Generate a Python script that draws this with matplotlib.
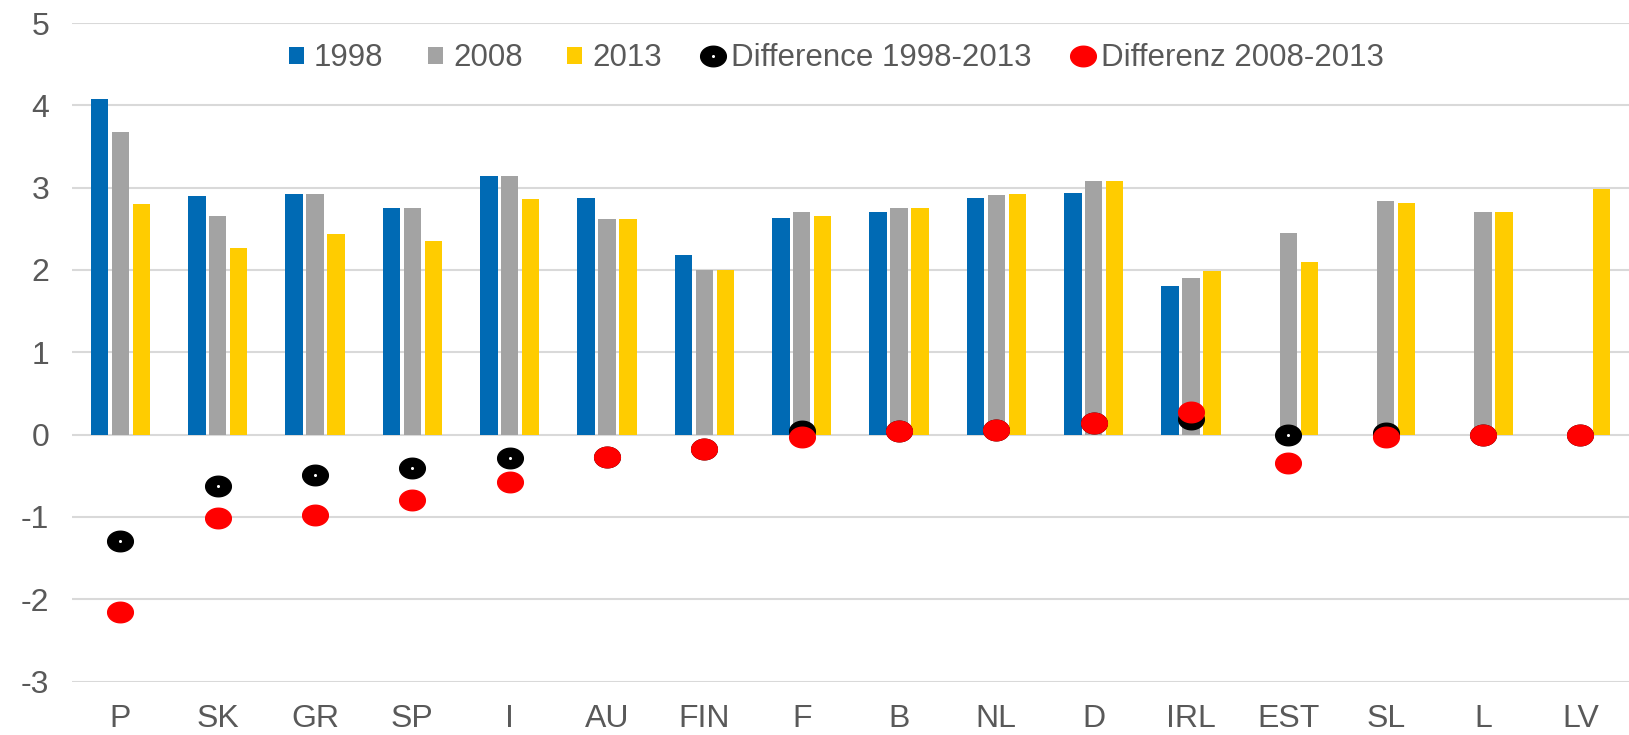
import matplotlib.pyplot as plt
import numpy as np
from matplotlib.path import Path

plt.rcParams['font.family'] = ['Liberation Sans', 'DejaVu Sans']
plt.rcParams['axes.unicode_minus'] = False

countries = ['P', 'SK', 'GR', 'SP', 'I', 'AU', 'FIN', 'F', 'B', 'NL', 'D', 'IRL', 'EST', 'SL', 'L', 'LV']
v1998 = [4.08, 2.90, 2.92, 2.75, 3.14, 2.88, 2.18, 2.63, 2.71, 2.87, 2.94, 1.80, np.nan, np.nan, np.nan, np.nan]
v2008 = [3.68, 2.65, 2.92, 2.75, 3.14, 2.62, 2.00, 2.71, 2.75, 2.91, 3.08, 1.90, 2.45, 2.84, 2.70, np.nan]
v2013 = [2.80, 2.27, 2.44, 2.35, 2.86, 2.62, 2.00, 2.66, 2.75, 2.92, 3.08, 1.99, 2.10, 2.81, 2.70, 2.98]
diff_98_13 = [-1.29, -0.63, -0.49, -0.40, -0.29, -0.27, -0.18, 0.04, 0.04, 0.05, 0.14, 0.19, 0.0, 0.02, 0.0, 0.0]
diff_08_13 = [-2.16, -1.01, -0.98, -0.80, -0.57, -0.27, -0.18, -0.03, 0.04, 0.05, 0.14, 0.28, -0.35, -0.03, 0.0, 0.0]

# ellipse marker, the excel dots are a bit wider than tall
t = np.linspace(0, 2 * np.pi, 60)
ellipse = Path(np.column_stack([np.cos(t), 0.8 * np.sin(t)]), closed=True)

fig = plt.figure(figsize=(16.29, 7.35), dpi=100)
ax = fig.add_axes([0.044, 0.0727, 0.956, 0.896])

x = np.arange(len(countries))
step = 0.215
w = 0.18
b1 = ax.bar(x - step, v1998, w, color='#006AB4', zorder=2)
b2 = ax.bar(x, v2008, w, color='#A3A3A3', zorder=2)
b3 = ax.bar(x + step, v2013, w, color='#FFCC00', zorder=2)

d1, = ax.plot(x, diff_98_13, linestyle='none', marker=ellipse, markersize=18.5,
              color='black', zorder=3)
d1c, = ax.plot(x, diff_98_13, linestyle='none', marker='o', markersize=1.2,
               color='white', zorder=3.5)
d2, = ax.plot(x, diff_08_13, linestyle='none', marker=ellipse, markersize=18.5,
              color='#FF0000', zorder=4)

ax.set_xlim(-0.5, len(countries) - 0.5)
ax.set_ylim(-3, 5)
ax.set_yticks(range(-3, 6))
ax.set_xticks(x)
ax.set_xticklabels(countries)
ax.tick_params(length=0, labelsize=23, labelcolor='#595959')
ax.tick_params(axis='x', pad=16)
ax.tick_params(axis='y', pad=16)
ax.grid(axis='y', color='#D9D9D9', linewidth=1.5, zorder=0)
ax.set_axisbelow(True)
for s in ax.spines.values():
    s.set_visible(False)

leg = ax.legend([b1, b2, b3, (d1, d1c), d2],
                ['1998', '2008', '2013', 'Difference 1998-2013', 'Differenz 2008-2013'],
                ncol=5, frameon=False, loc='upper center', bbox_to_anchor=(0.491, 1.012),
                fontsize=22.5, handlelength=0.47, handleheight=0.47, handletextpad=0.33,
                columnspacing=1.42, labelcolor='#595959')

plt.savefig('out.png')
